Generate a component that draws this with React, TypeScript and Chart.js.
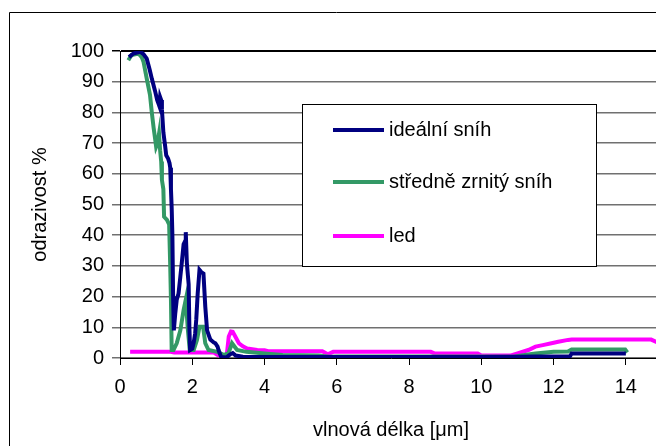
import React, { useEffect, useRef } from "react";
import { Chart, registerables } from "chart.js";

Chart.register(...registerables);

const idealX = [0.25, 0.37, 0.5, 0.56, 0.65, 0.74, 0.82, 0.88, 0.97, 1.03, 1.06, 1.09, 1.11, 1.14, 1.16, 1.2, 1.25, 1.28, 1.33, 1.37, 1.39, 1.41, 1.43, 1.45, 1.47, 1.49, 1.53, 1.57, 1.62, 1.67, 1.71, 1.76, 1.8, 1.82, 1.85, 1.9, 1.92, 1.94, 2.0, 2.04, 2.08, 2.11, 2.15, 2.2, 2.25, 2.31, 2.36, 2.41, 2.5, 2.6, 2.64, 2.7, 2.73, 2.8, 2.95, 3.05, 3.12, 3.2, 3.4, 4, 6, 8, 10, 11, 11.5, 12, 12.45, 12.5, 13, 13.5, 14];
const idealY = [98, 99.2, 99.6, 99.8, 99, 97.5, 94, 91, 87, 84, 83, 82, 85, 84, 81, 73.5, 69, 66, 65, 63.5, 62, 55, 49, 40, 20, 9, 14.6, 19, 21, 26.5, 31, 37, 38, 41, 31, 24, 10, 2.6, 3, 5, 8, 12.4, 21, 28.7, 28, 27.5, 16.7, 9, 6, 5, 4.8, 3.7, 2.5, 0.3, 0.2, 1.2, 1.6, 0.8, 0.4, 0.3, 0.3, 0.3, 0.3, 0.4, 0.5, 0.5, 0.5, 1.5, 1.5, 1.5, 1.5];

const grainX = [0.23, 0.32, 0.45, 0.51, 0.6, 0.65, 0.74, 0.83, 0.88, 0.93, 0.97, 1.0, 1.04, 1.08, 1.11, 1.14, 1.16, 1.2, 1.22, 1.3, 1.36, 1.39, 1.41, 1.43, 1.48, 1.57, 1.67, 1.76, 1.82, 1.88, 1.93, 2.04, 2.13, 2.2, 2.3, 2.36, 2.45, 2.69, 2.87, 3.0, 3.1, 3.24, 3.5, 4.0, 4.5, 5.5, 5.8, 6, 8, 10, 10.9, 11.2, 11.5, 12.0, 12.4, 12.5, 13.0, 13.5, 13.98, 14.04];
const grainY = [97, 98.7, 99, 99.2, 98, 96.5, 91, 85.7, 80, 75, 71.6, 68.8, 70, 73, 67.7, 64, 58, 55, 46, 45, 43.5, 30, 19, 2.6, 2.6, 4.8, 9, 15.6, 19, 9, 2.6, 2.6, 5.9, 10.2, 10.2, 4.8, 2.6, 2, 1, 1.5, 4.8, 2.6, 2, 1.5, 1, 0.8, 0.4, 0.5, 0.5, 0.5, 0.4, 1, 1.5, 2, 2.1, 2.8, 2.8, 2.8, 2.8, 1.8];

const iceX = [0.28, 1.0, 1.4, 1.5, 2.0, 2.6, 2.7, 2.85, 2.95, 3.01, 3.07, 3.12, 3.19, 3.29, 3.4, 3.52, 3.8, 4.0, 4.1, 5.6, 5.75, 5.9, 8.6, 8.7, 9.9, 10.0, 10.8, 11.0, 11.3, 11.5, 11.7, 11.94, 12.13, 12.4, 12.5, 14.7, 14.85, 15];
const iceY = [2, 2, 2, 1.8, 1.8, 1.8, 1, 0.4, 0.5, 7, 8.6, 8.5, 7, 4.8, 3.8, 3.1, 2.6, 2.5, 2.2, 2.2, 1.2, 2, 2, 1.5, 1.5, 0.8, 0.8, 1.5, 2.6, 3.7, 4.2, 4.8, 5.3, 5.9, 6, 6, 5.2, 5];

const seriesNames = ["ideální sníh", "středně zrnitý sníh", "led"];
const seriesColors = ["#000080", "#339966", "#ff00ff"];
const xTitle = "vlnová délka [μm]";
const yTitle = "odrazivost %";

const toPoints = (xs: number[], ys: number[]) => xs.map((x, i) => ({ x, y: ys[i] }));

const FONT = "'Liberation Sans', Arial, sans-serif";

const framePlugin = {
  id: "frame",
  beforeDraw(chart: any) {
    const ctx = chart.ctx;
    ctx.save();
    ctx.strokeStyle = "#000";
    ctx.lineWidth = 1;
    ctx.beginPath();
    ctx.moveTo(1.5, 460);
    ctx.lineTo(1.5, 4.5);
    ctx.lineTo(655.5, 4.5);
    ctx.lineTo(655.5, 460);
    ctx.stroke();
    // top border of plot
    const a = chart.chartArea;
    ctx.beginPath();
    ctx.moveTo(a.left, Math.round(a.top) + 0.5);
    ctx.lineTo(a.right, Math.round(a.top) + 0.5);
    ctx.stroke();
    ctx.restore();
  },
};

const legendPlugin = {
  id: "boxLegend",
  afterDatasetsDraw(chart: any) {
    const ctx = chart.ctx;
    const a = chart.chartArea;
    const bx = a.left + 182;
    const by = a.top + 53;
    const bw = 294;
    const bh = 162;
    ctx.save();
    ctx.fillStyle = "#fff";
    ctx.fillRect(bx, by, bw, bh);
    ctx.strokeStyle = "#000";
    ctx.lineWidth = 1;
    ctx.strokeRect(bx + 0.5, by + 0.5, bw, bh);
    const ys = [by + 26, by + 78, by + 132];
    ctx.font = `20px ${FONT}`;
    ctx.textBaseline = "middle";
    ctx.textAlign = "left";
    seriesNames.forEach((name, i) => {
      ctx.strokeStyle = seriesColors[i];
      ctx.lineWidth = 4;
      ctx.beginPath();
      ctx.moveTo(bx + 31, ys[i]);
      ctx.lineTo(bx + 82, ys[i]);
      ctx.stroke();
      ctx.fillStyle = "#000";
      ctx.fillText(name, bx + 87, ys[i]);
    });
    ctx.restore();
  },
};

export default function App() {
  const ref = useRef<HTMLCanvasElement>(null);
  useEffect(() => {
    if (!ref.current) return;
    const mk = (label: string, color: string, pts: { x: number; y: number }[]) => ({
      label,
      data: pts,
      borderColor: color,
      backgroundColor: color,
      borderWidth: 4,
      pointRadius: 0,
      tension: 0,
      fill: false,
    });
    const chart = new Chart(ref.current, {
      type: "line",
      data: {
        datasets: [
          mk(seriesNames[0], seriesColors[0], toPoints(idealX, idealY)),
          mk(seriesNames[1], seriesColors[1], toPoints(grainX, grainY)),
          mk(seriesNames[2], seriesColors[2], toPoints(iceX, iceY)),
        ],
      },
      options: {
        animation: false,
        responsive: false,
        layout: { padding: { top: 43, right: 2, left: 0, bottom: 0 } },
        plugins: { legend: { display: false }, tooltip: { enabled: false } },
        scales: {
          x: {
            type: "linear",
            min: 0,
            max: 15,
            afterBuildTicks: (s: any) => {
              s.ticks = s.ticks.filter((t: any) => t.value % 2 === 0);
            },
            afterFit: (s: any) => {
              s.height = 88;
            },
            ticks: {
              stepSize: 2,
              color: "#000",
              font: { family: FONT, size: 20 },
              padding: 10,
              maxRotation: 0,
            },
            grid: {
              drawOnChartArea: false,
              drawTicks: true,
              tickLength: 7,
              color: "#000",
              lineWidth: 1,
            },
            border: { display: true, color: "#000", width: 1 },
            title: {
              display: true,
              text: xTitle,
              color: "#000",
              font: { family: FONT, size: 20 },
              padding: { top: 0, bottom: 4 },
            },
          },
          y: {
            min: 0,
            max: 100,
            afterFit: (s: any) => {
              s.width = 112;
            },
            ticks: {
              stepSize: 10,
              color: "#000",
              font: { family: FONT, size: 20 },
              padding: 8,
            },
            grid: {
              color: (c: any) => (c.tick && c.tick.value === 100 ? "#000" : "#707070"),
              lineWidth: 1.5,
              tickLength: 8,
            },
            border: { display: true, color: "#000", width: 1 },
            title: {
              display: true,
              text: yTitle,
              color: "#000",
              font: { family: FONT, size: 20 },
              padding: { top: 20, bottom: 0 },
            },
          },
        },
      },
      plugins: [framePlugin, legendPlugin],
    });
    return () => chart.destroy();
  }, []);
  return (
    <div style={{ width: 656, height: 438 }}>
      <canvas ref={ref} width={656} height={438} style={{ display: "block" }} />
    </div>
  );
}
